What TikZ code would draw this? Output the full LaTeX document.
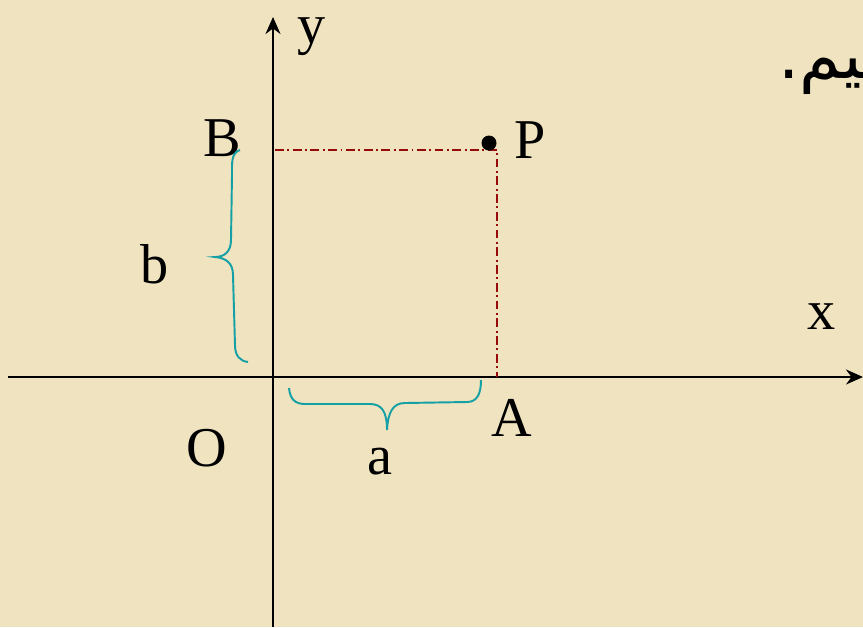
\documentclass[tikz,border=0pt]{standalone}
\usepackage{fontspec}
\setmainfont{Liberation Serif}
\newfontfamily\arabicfont[Script=Arabic]{DejaVu Sans}
\TeXXeTstate=1
\usetikzlibrary{arrows.meta}
\definecolor{colFond}{RGB}{239,227,192}
\definecolor{colTrait}{RGB}{150,10,10}
\definecolor{colAccol}{RGB}{20,160,165}

\begin{document}
\begin{tikzpicture}[x=0.02cm, y=-0.02cm, font=\fontsize{32}{36}\selectfont,
    ax/.style={-{Stealth[length=0.34cm, width=0.3cm]}, line width=1.1pt},
    tr/.style={colTrait, line width=0.85pt,
      dash pattern=on 5pt off 2pt on 1.1pt off 2pt},
    acc/.style={colAccol, line width=1.1pt},
    lbl/.style={inner sep=0pt}]
    \clip (0,0) rectangle (863,627);
    \fill[colFond] (0,0) rectangle (863,627);
    % axes
    \coordinate (O) at (273,377);
    \coordinate (xg) at (8,377);  \coordinate (xd) at (863,377);
    \coordinate (yb) at (273,627); \coordinate (yh) at (273,17);
    \draw[ax] (xg) -- (xd);
    \draw[ax] (yb) -- (yh);
    % point P et projections
    \coordinate (Bp) at (275,150);
    \coordinate (Pp) at (497,150);
    \coordinate (Ap) at (497,377);
    \draw[tr] (Bp) -- (Pp) -- (Ap);
    \node[circle, fill, inner sep=0pt, minimum size=0.3cm] (pt) at (489,143) {};
    % etiquettes
    \node[lbl] (ly) at (312,37) {y};
    \node[lbl] (lx) at (822,317) {x};
    \node[lbl] (lB) at (222,138) {B};
    \node[lbl] (lP) at (530,140) {P};
    \node[lbl] (lb) at (155,264) {b};
    \node[lbl] (lA) at (512,418) {A};
    \node[lbl] (lO) at (207,448) {O};
    \node[lbl] (la) at (380,462) {a};
    \node[lbl, anchor=east, font=\fontsize{38}{42}\selectfont] (ar) at (884,76)
      {\arabicfont\beginR ـيم.\endR};
    % accolades
    \draw[acc] (240,150) .. controls (231,153) and (232,163) .. (232,175)
      -- (231,240) .. controls (231,252) and (224,257) .. (215,257)
      .. controls (226,258) and (233,263) .. (233,275)
      -- (235,345) .. controls (235,356) and (240,361) .. (248,362);
    \draw[acc] (289,388) .. controls (290,399) and (295,404) .. (305,404)
      -- (370,404) .. controls (382,404) and (387,412) .. (387,430)
      .. controls (388,412) and (393,403) .. (405,403)
      -- (467,402) .. controls (477,402) and (481,394) .. (481,380);
\end{tikzpicture}
\end{document}
